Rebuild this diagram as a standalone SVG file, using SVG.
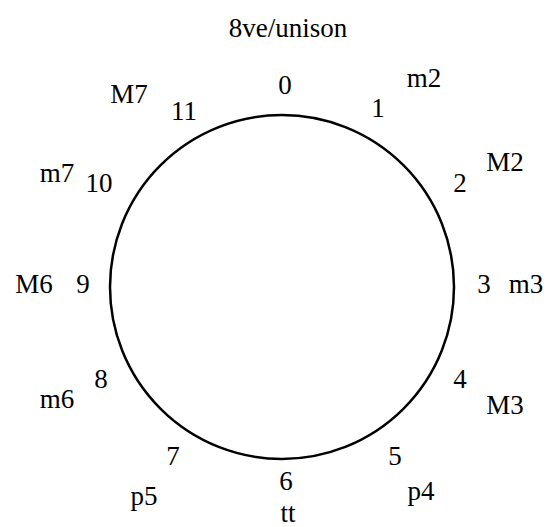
<svg xmlns="http://www.w3.org/2000/svg" width="550" height="527" viewBox="0 0 550 527">
<style>
text{font-family:"Liberation Serif","Times New Roman",serif;font-size:27px;fill:#000;text-anchor:middle}
.c{fill:none;stroke:#000;stroke-width:2.5}
</style>
<rect width="550" height="527" fill="#fff"/>
<g id="title"><text x="288" y="37">8ve/unison</text></g>
<g id="connectors"><circle class="c" cx="282" cy="287" r="172"/></g>
<g id="n0"><text x="285" y="94">0</text></g>
<g id="n1"><text x="378" y="117">1</text><text x="424" y="87">m2</text></g>
<g id="n2"><text x="460" y="192">2</text><text x="505" y="171">M2</text></g>
<g id="n3"><text x="484" y="293">3</text><text x="526" y="293">m3</text></g>
<g id="n4"><text x="460" y="388">4</text><text x="505" y="414">M3</text></g>
<g id="n5"><text x="395" y="465">5</text><text x="421" y="500">p4</text></g>
<g id="n6"><text x="286" y="490">6</text><text x="288" y="522">tt</text></g>
<g id="n7"><text x="173" y="465">7</text><text x="144" y="505">p5</text></g>
<g id="n8"><text x="101" y="388">8</text><text x="57" y="408">m6</text></g>
<g id="n9"><text x="83" y="293">9</text><text x="34" y="293">M6</text></g>
<g id="n10"><text x="99" y="192">10</text><text x="57" y="182">m7</text></g>
<g id="n11"><text x="184" y="120">11</text><text x="129" y="103">M7</text></g>
</svg>
